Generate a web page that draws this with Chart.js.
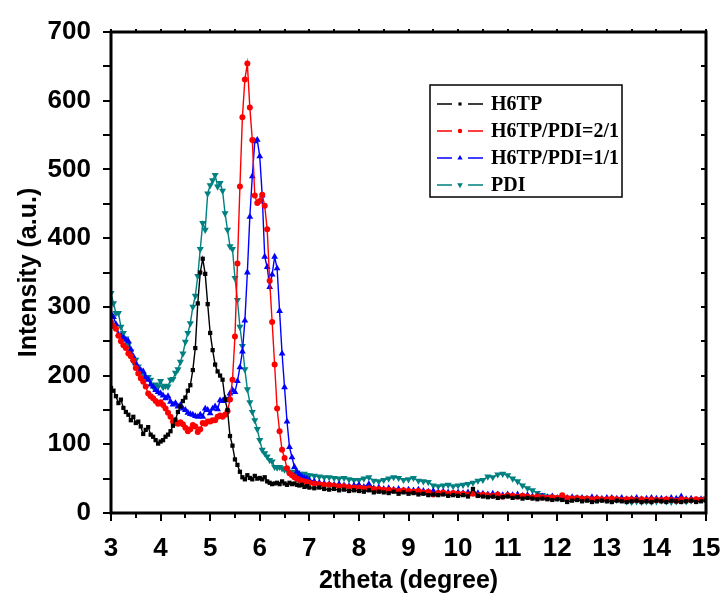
<!DOCTYPE html>
<html>
<head>
<meta charset="utf-8">
<script src="https://cdn.jsdelivr.net/npm/chart.js@4"></script>
<style>
  html, body { margin: 0; padding: 0; background: #fff; }
  #wrap { width: 723px; height: 602px; }
</style>
</head>
<body>
<div id="wrap"><canvas id="c" width="723" height="602"></canvas></div>
<script>
// 2theta values: 0.05 step up to 7, then 0.1 step
var xs = [
  3.00,3.05,3.10,3.15,3.20,3.25,3.30,3.35,3.40,3.45,
  3.50,3.55,3.60,3.65,3.70,3.75,3.80,3.85,3.90,3.95,
  4.00,4.05,4.10,4.15,4.20,4.25,4.30,4.35,4.40,4.45,
  4.50,4.55,4.60,4.65,4.70,4.75,4.80,4.85,4.90,4.95,
  5.00,5.05,5.10,5.15,5.20,5.25,5.30,5.35,5.40,5.45,
  5.50,5.55,5.60,5.65,5.70,5.75,5.80,5.85,5.90,5.95,
  6.00,6.05,6.10,6.15,6.20,6.25,6.30,6.35,6.40,6.45,
  6.50,6.55,6.60,6.65,6.70,6.75,6.80,6.85,6.90,6.95,
  7.00,
  7.1,7.2,7.3,7.4,7.5,7.6,7.7,7.8,7.9,8.0,
  8.1,8.2,8.3,8.4,8.5,8.6,8.7,8.8,8.9,9.0,
  9.1,9.2,9.3,9.4,9.5,9.6,9.7,9.8,9.9,10.0,
  10.1,10.2,10.3,10.4,10.5,10.6,10.7,10.8,10.9,11.0,
  11.1,11.2,11.3,11.4,11.5,11.6,11.7,11.8,11.9,12.0,
  12.1,12.2,12.3,12.4,12.5,12.6,12.7,12.8,12.9,13.0,
  13.1,13.2,13.3,13.4,13.5,13.6,13.7,13.8,13.9,14.0,
  14.1,14.2,14.3,14.4,14.5,14.6,14.7,14.8,14.9,15.0
];

var h6tp = [
  182,178,170,160,165,153,147,143,135,140,
  131,133,126,115,121,125,114,111,106,101,
  104,106,111,114,119,127,136,147,155,163,
  168,178,186,208,240,305,350,370,348,304,
  262,237,216,206,200,194,165,150,112,98,
  78,70,60,52,49,55,51,49,54,50,
  51,49,52,46,44,42,43,44,42,46,
  43,41,44,42,43,41,40,41,38,39,
  37,
  36,37,35,34,35,33,34,32,33,32,
  31,33,30,31,30,29,31,28,30,28,
  29,27,28,26,27,26,27,25,26,25,
  26,24,35,25,24,23,24,22,23,24,
  22,23,21,22,21,20,21,20,19,20,
  19,16,18,19,17,18,16,17,18,17,
  16,18,17,16,17,18,16,17,16,18,
  17,16,18,17,16,17,18,16,17,18
];

var h6tpPdi21 = [
  278,272,268,258,250,244,240,232,228,222,
  211,203,196,191,184,174,170,167,163,159,
  161,157,152,146,140,133,131,130,132,129,
  124,119,122,128,126,118,122,131,130,133,
  133,135,135,140,142,140,143,148,165,194,
  257,363,475,576,631,654,590,543,462,451,
  454,463,447,413,338,278,216,152,119,92,
  80,65,58,55,52,50,48,47,46,45,
  44,
  43,42,41,41,40,39,39,38,37,37,
  36,36,35,35,34,34,33,32,33,32,
  31,32,30,31,27,29,30,28,29,28,
  28,27,28,26,27,26,25,27,24,26,
  25,24,25,24,23,24,23,22,23,22,
  26,22,21,22,21,21,20,21,20,20,
  21,20,19,20,20,19,20,19,20,19,
  19,20,19,18,20,19,19,20,19,20
];

var h6tpPdi11 = [
  290,285,275,260,258,255,252,250,238,228,
  218,211,208,206,198,194,187,184,179,176,
  174,171,167,170,162,158,160,155,157,152,
  150,146,144,143,141,140,143,140,152,150,
  145,152,155,151,164,163,167,164,174,179,
  176,192,212,235,280,350,431,490,541,543,
  519,462,373,358,329,347,373,356,294,232,
  183,133,96,81,67,60,56,53,51,50,
  48,
  46,44,43,42,41,42,40,39,40,41,
  38,42,36,37,35,36,34,35,33,34,
  33,34,32,31,32,30,31,30,29,30,
  29,30,28,29,28,27,28,27,26,27,
  26,27,25,26,24,25,24,23,24,22,
  23,22,23,22,22,21,23,22,21,22,
  22,21,22,20,21,22,20,21,22,21,
  21,20,22,21,24,20,21,19,20,21
];

var pdi = [
  320,305,291,291,271,262,254,245,235,220,
  223,213,207,201,198,198,194,184,187,184,
  192,183,185,184,194,195,204,209,220,232,
  249,262,276,300,316,345,384,422,412,465,
  477,484,492,475,480,469,436,412,388,384,
  342,310,271,243,209,180,161,147,135,122,
  106,92,87,82,77,75,67,66,67,65,
  63,63,60,60,58,59,57,56,57,55,
  55,
  54,53,52,52,51,50,51,49,48,48,
  50,52,47,46,48,50,52,51,48,49,
  51,47,46,45,40,39,40,41,39,40,
  41,42,44,47,48,53,52,56,57,55,
  50,46,40,36,33,29,26,24,23,22,
  22,21,22,21,20,21,20,19,20,19,
  18,19,20,17,16,17,16,17,16,17,
  18,17,16,17,18,17,18,19,20,21
];

var seriesNames = ['H6TP', 'H6TP/PDI=2/1', 'H6TP/PDI=1/1', 'PDI'];
var seriesColors = ['#000000', '#ff0000', '#0000ff', '#008080'];
var xTicks = [3, 4, 5, 6, 7, 8, 9, 10, 11, 12, 13, 14, 15];
var yTicks = [0, 100, 200, 300, 400, 500, 600, 700];

function pts(ys) {
  return ys.map(function (y, i) { return { x: xs[i], y: y }; });
}

function ds(i, ys, style, radius, rotation) {
  return {
    label: seriesNames[i],
    data: pts(ys),
    borderColor: seriesColors[i],
    backgroundColor: seriesColors[i],
    borderWidth: 1.4,
    pointStyle: style,
    pointRadius: radius,
    pointRotation: rotation || 0,
    pointBorderWidth: 0,
    tension: 0
  };
}

// box frame + tick marks on all four sides
var framePlugin = {
  id: 'frame',
  afterDraw: function (chart) {
    var ctx = chart.ctx, a = chart.chartArea;
    var sx = chart.scales.x, sy = chart.scales.y;
    ctx.save();
    ctx.strokeStyle = '#000';
    ctx.lineWidth = 3;
    ctx.strokeRect(a.left, a.top, a.right - a.left, a.bottom - a.top);
    ctx.lineWidth = 2;
    ctx.beginPath();
    for (var v = 3; v <= 15.001; v += 0.5) {
      var px = Math.round(sx.getPixelForValue(v));
      var major = Math.abs(v - Math.round(v)) < 1e-6;
      var len = major ? 8 : 5;
      ctx.moveTo(px, a.bottom); ctx.lineTo(px, a.bottom + len);
      ctx.moveTo(px, a.top); ctx.lineTo(px, a.top - 3);
    }
    for (var w = 0; w <= 700; w += 50) {
      var py = Math.round(sy.getPixelForValue(w));
      ctx.moveTo(a.left, py); ctx.lineTo(a.left - 8, py);
      ctx.moveTo(a.right, py); ctx.lineTo(a.right - 5, py);
    }
    ctx.stroke();
    ctx.restore();
  }
};

// Origin-style legend box
var legendPlugin = {
  id: 'boxLegend',
  afterDraw: function (chart) {
    var ctx = chart.ctx;
    var bx = 430, by = 85, bw = 192, bh = 112;
    ctx.save();
    ctx.strokeStyle = '#000';
    ctx.lineWidth = 1.5;
    ctx.strokeRect(bx, by, bw, bh);
    ctx.font = 'bold 20px "Liberation Serif"';
    ctx.textBaseline = 'middle';
    chart.data.datasets.forEach(function (d, i) {
      var cy = by + 19 + i * 27;
      ctx.strokeStyle = d.borderColor;
      ctx.lineWidth = 1.3;
      ctx.beginPath();
      ctx.moveTo(437, cy); ctx.lineTo(452, cy);
      ctx.moveTo(468, cy); ctx.lineTo(483, cy);
      ctx.stroke();
      ctx.fillStyle = d.backgroundColor;
      Chart.helpers.drawPoint(ctx, {
        pointStyle: d.pointStyle, rotation: d.pointRotation,
        radius: Math.max(2.2, d.pointRadius - 0.8), borderWidth: 0
      }, 460, cy);
      ctx.fillStyle = '#000';
      ctx.fillText(d.label, 491, cy + 1);
    });
    ctx.restore();
  }
};

new Chart(document.getElementById('c'), {
  type: 'line',
  data: {
    datasets: [
      ds(0, h6tp, 'rect', 3),
      ds(1, h6tpPdi21, 'circle', 3),
      ds(2, h6tpPdi11, 'triangle', 3.9),
      ds(3, pdi, 'triangle', 4.1, 180)
    ]
  },
  options: {
    responsive: false,
    animation: false,
    events: [],
    layout: { padding: { top: 32, right: 17, left: 0, bottom: 0 } },
    plugins: { legend: { display: false }, tooltip: { enabled: false } },
    scales: {
      x: {
        type: 'linear', min: 3, max: 15,
        grid: { display: false }, border: { display: false },
        afterBuildTicks: function (s) { s.ticks = xTicks.map(function (v) { return { value: v }; }); },
        afterFit: function (s) { s.height = 89; s.paddingLeft = 0; s.paddingRight = 0; },
        ticks: { color: '#000', padding: 12, maxRotation: 0, font: { family: '"Liberation Sans"', size: 26, weight: 'bold' } },
        title: { display: true, text: '2theta (degree)', color: '#000', padding: { top: 0, bottom: 6 },
                 font: { family: '"Liberation Sans"', size: 25, weight: 'bold' } }
      },
      y: {
        type: 'linear', min: 0, max: 700,
        grid: { display: false }, border: { display: false },
        afterBuildTicks: function (s) { s.ticks = yTicks.map(function (v) { return { value: v }; }); },
        afterFit: function (s) { s.width = 111; s.paddingTop = 0; s.paddingBottom = 0; },
        ticks: { color: '#000', padding: 12, font: { family: '"Liberation Sans"', size: 26, weight: 'bold' } },
        title: { display: true, text: 'Intensity (a.u.)', color: '#000', padding: { top: 14, bottom: 0 },
                 font: { family: '"Liberation Sans"', size: 25, weight: 'bold' } }
      }
    }
  },
  plugins: [framePlugin, legendPlugin]
});
</script>
</body>
</html>
